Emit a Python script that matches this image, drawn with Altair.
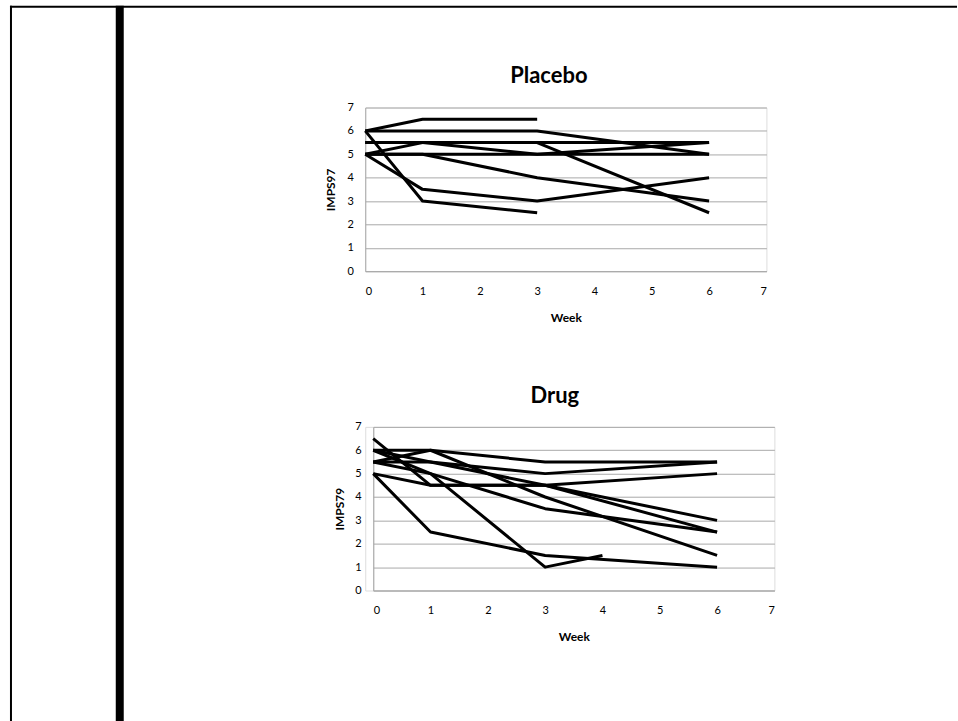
import altair as alt
import pandas as pd

# ---- data ----
axis_ticks = [0, 1, 2, 3, 4, 5, 6, 7]

placebo_subjects = ["P1", "P2", "P3", "P4", "P5", "P6", "P7", "P8", "P9"]
placebo_weeks = [
    [0, 1, 3],
    [0, 1, 3, 6],
    [0, 1, 3, 6],
    [0, 1, 3, 6],
    [0, 1, 3, 6],
    [0, 1, 3, 6],
    [0, 1, 3],
    [0, 1, 3, 6],
    [0, 1, 3, 6],
]
placebo_scores = [
    [6, 6.5, 6.5],
    [6, 6, 6, 5],
    [5.5, 5.5, 5.5, 5.5],
    [5, 5.5, 5.5, 2.5],
    [5.5, 5.5, 5, 5.5],
    [5, 5, 5, 5],
    [6, 3, 2.5],
    [5, 3.5, 3, 4],
    [5, 5, 4, 3],
]

drug_subjects = ["D1", "D2", "D3", "D4", "D5", "D6", "D7", "D8", "D9"]
drug_weeks = [
    [0, 1, 3, 6],
    [0, 1, 3, 6],
    [0, 1, 3, 6],
    [0, 1, 3, 6],
    [0, 1, 3, 6],
    [0, 1, 3, 6],
    [0, 1, 3, 4],
    [0, 1, 3, 6],
    [0, 1, 3, 6],
]
drug_scores = [
    [6, 6, 5.5, 5.5],
    [5.5, 6, 4, 1.5],
    [5.5, 5.5, 5, 5.5],
    [5, 4.5, 4.5, 5],
    [6.5, 4.5, 4.5, 2.5],
    [5, 2.5, 1.5, 1],
    [6, 5, 1, 1.5],
    [5.5, 5, 3.5, 2.5],
    [6, 5.5, 4.5, 3],
]


def to_frame(subjects, weeks, scores):
    rows = []
    for s, ws, vs in zip(subjects, weeks, scores):
        for w, v in zip(ws, vs):
            rows.append({"subject": s, "week": w, "score": v})
    return pd.DataFrame(rows)


placebo_df = to_frame(placebo_subjects, placebo_weeks, placebo_scores)
drug_df = to_frame(drug_subjects, drug_weeks, drug_scores)

FONT = "Lato"
GRID = "#a9a9a9"
W, H = 402, 164


def panel(df, title, ytitle, title_dx, title_dy, ytitle_x):
    x_axis = alt.Axis(
        values=axis_ticks, grid=False, ticks=False, tickSize=0,
        domainColor=GRID, labelPadding=14, labelFontSize=11, labelFont=FONT,
        labelColor="black", title="Week", titleFont=FONT, titleFontSize=12,
        titleFontWeight="bold", titleColor="black", titleX=W / 2, titleY=50,
        titleBaseline="alphabetic", titleAlign="center",
    )
    y_axis = alt.Axis(
        values=axis_ticks, grid=True, gridColor=GRID, ticks=False, tickSize=0,
        domainColor=GRID, labelPadding=12, labelFontSize=11, labelFont=FONT,
        labelColor="black", title=ytitle, titleFont=FONT, titleFontSize=12,
        titleFontWeight="bold", titleColor="black", titleAngle=270,
        titleX=ytitle_x, titleY=H / 2, titleBaseline="alphabetic",
        titleAlign="center",
    )
    return (
        alt.Chart(df)
        .mark_line(color="black", strokeWidth=3, strokeJoin="round")
        .encode(
            x=alt.X("week:Q", scale=alt.Scale(domain=[0, 7], nice=False), axis=x_axis),
            y=alt.Y("score:Q", scale=alt.Scale(domain=[0, 7], nice=False), axis=y_axis),
            detail="subject:N",
            order="week:Q",
        )
        .properties(
            width=W, height=H,
            title=alt.TitleParams(
                text=title, font=FONT, fontSize=22, fontWeight="bold",
                color="black", anchor="middle", frame="group", dx=title_dx,
                offset=0, dy=title_dy, baseline="alphabetic",
            ),
        )
    )


top = panel(placebo_df, "Placebo", "IMPS97", -17, 3, -31)
bottom = panel(drug_df, "Drug", "IMPS79", -19, 4, -30)

# page frame, drawn in a narrow spacer cell left of the bottom panel
one = pd.DataFrame({"k": [0]})
frame_left = alt.Chart(one).mark_rect(color="black").encode(
    x=alt.value(-356), x2=alt.value(-354), y=alt.value(-422), y2=alt.value(295))
frame_top = alt.Chart(one).mark_rect(color="black").encode(
    x=alt.value(-356), x2=alt.value(593), y=alt.value(-422), y2=alt.value(-420))
frame_bar = alt.Chart(one).mark_rect(color="black").encode(
    x=alt.value(-250), x2=alt.value(-242), y=alt.value(-422), y2=alt.value(295))

spacer = alt.layer(frame_left, frame_top, frame_bar).properties(width=8, height=H)
bottom_row = alt.hconcat(spacer, bottom, spacing=0, bounds="flush")

chart = (
    alt.vconcat(top, bottom_row, spacing=156, bounds="flush")
    .properties(padding={"left": 9, "top": 4, "right": 0, "bottom": 0},
                background="white")
    .configure_view(stroke=None)
    .configure(font=FONT)
)

chart.save("out.html", embed_options={"renderer": "svg", "actions": False})
